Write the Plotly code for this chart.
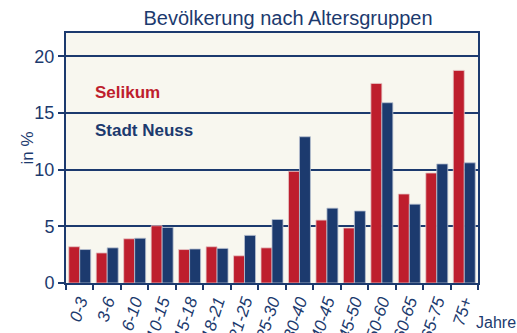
import plotly.graph_objects as go

# Age groups and population shares (percent)
age_groups = ["0-3", "3-6", "6-10", "10-15", "15-18", "18-21", "21-25", "25-30",
              "30-40", "40-45", "45-50", "50-60", "60-65", "65-75", "75+"]
selikum = [3.2, 2.65, 3.9, 5.05, 2.95, 3.2, 2.4, 3.1, 9.85, 5.55, 4.85, 17.6, 7.85, 9.7, 18.75]
neuss = [2.95, 3.1, 3.95, 4.9, 3.0, 3.05, 4.2, 5.6, 12.9, 6.6, 6.35, 15.9, 6.95, 10.5, 10.6]

NAVY = "#1c3a6e"
RED = "#be1e2d"
FONT = "Liberation Sans, Arial, sans-serif"

fig = go.Figure()
fig.add_trace(go.Bar(x=age_groups, y=selikum, name="Selikum",
                     marker=dict(color=RED, line=dict(color="#e6c8c8", width=0.8))))
fig.add_trace(go.Bar(x=age_groups, y=neuss, name="Stadt Neuss",
                     marker=dict(color=NAVY, line=dict(color="#b8c0d0", width=0.8))))

fig.update_layout(
    width=517, height=333,
    margin=dict(l=66, r=39, t=33, b=50),
    paper_bgcolor="white",
    plot_bgcolor="#f8f7ef",
    barmode="group", bargap=0.2, bargroupgap=0,
    showlegend=False,
    font=dict(family=FONT, color=NAVY),
    title=dict(text="Bevölkerung nach Altersgruppen", x=288 / 517, xanchor="center",
               y=1 - 18 / 333, yanchor="middle", font=dict(size=20, color=NAVY)),
    xaxis=dict(
        tickangle=-72, tickfont=dict(size=17, color=NAVY, style="italic"),
        ticks="outside", tickson="boundaries", ticklen=5, tickwidth=1.5, tickcolor=NAVY,
        showline=True, linecolor=NAVY, linewidth=2, mirror=True,
        showgrid=False, automargin=False,
    ),
    yaxis=dict(
        range=[0, 22.05], tickvals=[0, 5, 10, 15, 20],
        tickfont=dict(size=18, color=NAVY),
        ticks="outside", ticklen=6, tickwidth=1.5, tickcolor=NAVY,
        showline=True, linecolor=NAVY, linewidth=2, mirror=True,
        showgrid=True, gridcolor=NAVY, gridwidth=2, zeroline=False,
        automargin=False,
    ),
    annotations=[
        dict(text="in %", xref="paper", yref="paper", x=-51 / 412, y=0.54,
             textangle=-90, showarrow=False, font=dict(size=17, color=NAVY)),
        dict(text="Jahre", xref="paper", yref="paper", x=1.0 - 4 / 412, y=-39 / 250,
             xanchor="left", yanchor="middle", showarrow=False,
             font=dict(size=16, color=NAVY)),
        dict(text="<b>Selikum</b>", xref="paper", yref="paper", x=27 / 412, y=(283 - 92) / 250,
             xanchor="left", yanchor="middle", showarrow=False,
             font=dict(size=17, color=RED)),
        dict(text="<b>Stadt Neuss</b>", xref="paper", yref="paper", x=27 / 412, y=(283 - 130) / 250,
             xanchor="left", yanchor="middle", showarrow=False,
             font=dict(size=17, color=NAVY)),
    ],
)

fig.write_html("out.html")
